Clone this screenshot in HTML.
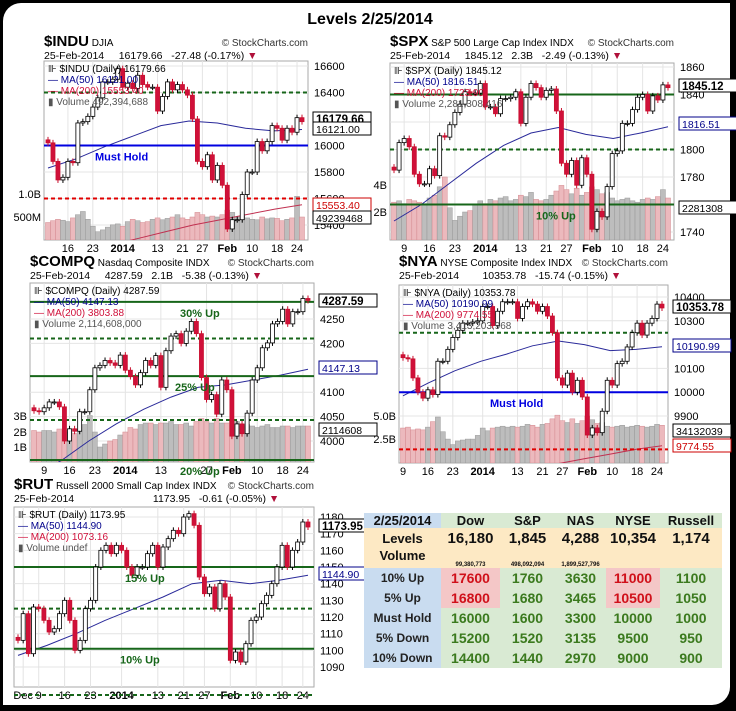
<!DOCTYPE html>
<html><head><meta charset="utf-8"><style>
body{margin:0;width:736px;height:711px;background:#000;overflow:hidden;font-family:"Liberation Sans",sans-serif}
#frame{position:absolute;left:3px;top:3px;width:727px;height:702px;background:#fff;border-radius:18px 0 18px 0}
svg{position:absolute;left:0;top:0}
#tbl{position:absolute;left:364px;top:513px;border-collapse:collapse;font-family:"Liberation Sans",sans-serif;font-weight:bold}
#tbl td{padding:0;text-align:center;height:20px;font-size:14px;color:#3b7a1e}
#tbl .lab{background:#c9dcf0;color:#222;font-size:12px;width:77px}
#tbl .g{background:#d9ead3}
#tbl .r{background:#f4c7c7;color:#d0101a}
#tbl .hd td{height:14px;font-size:13px;color:#111;background:#d9ead3}
#tbl .lv td{background:#fde9c4;color:#111}
</style></head><body>
<div id="frame"></div>
<svg id="s" width="736" height="711">
<text x="370" y="24" text-anchor="middle" font-size="16" font-weight="bold">Levels 2/25/2014</text>
</svg>
<table id="tbl">
<tr class="hd"><td class="lab" style="background:#c9dcf0;width:77px">2/25/2014</td><td style="width:59px">Dow</td><td style="width:55px">S&amp;P</td><td style="width:51px">NAS</td><td style="width:54px">NYSE</td><td style="width:62px">Russell</td></tr>
<tr class="lv"><td class="lab" style="background:#fde9c4;font-size:13px;height:19px">Levels</td><td style="font-size:15px">16,180</td><td style="font-size:15px">1,845</td><td style="font-size:15px">4,288</td><td style="font-size:15px">10,354</td><td style="font-size:15px">1,174</td></tr>
<tr class="lv"><td class="lab" style="background:#fde9c4;font-size:13px;height:18px;vertical-align:top">Volume</td><td style="font-size:6px;vertical-align:bottom">99,380,773</td><td style="font-size:6px;vertical-align:bottom">498,092,094</td><td style="font-size:6px;vertical-align:bottom">1,899,527,796</td><td></td><td></td></tr>
<tr><td class="lab">10% Up</td><td class="r">17600</td><td class="g">1760</td><td class="g">3630</td><td class="r">11000</td><td class="g">1100</td></tr>
<tr><td class="lab">5% Up</td><td class="r">16800</td><td class="g">1680</td><td class="g">3465</td><td class="r">10500</td><td class="g">1050</td></tr>
<tr><td class="lab">Must Hold</td><td class="g">16000</td><td class="g">1600</td><td class="g">3300</td><td class="g">10000</td><td class="g">1000</td></tr>
<tr><td class="lab">5% Down</td><td class="g">15200</td><td class="g">1520</td><td class="g">3135</td><td class="g">9500</td><td class="g">950</td></tr>
<tr><td class="lab">10% Down</td><td class="g">14400</td><td class="g">1440</td><td class="g">2970</td><td class="g">9000</td><td class="g">900</td></tr>
</table>
<script>
// ---- data ----
const induCloses=[16020,15880,15740,15760,15880,15870,16170,16180,16220,16290,16360,16480,16480,16500,16580,16440,16470,16430,16530,16460,16440,16440,16260,16370,16480,16420,16460,16420,16380,16200,15880,15840,15930,15740,15850,15700,15370,15440,15440,15630,15800,15800,16030,15960,16030,16150,16130,16040,16130,16100,16210,16180];
const induVol=[.38,.42,.45,.43,.4,.48,.55,.62,.45,.3,.18,.22,.28,.33,.35,.3,.4,.45,.42,.38,.4,.45,.48,.44,.47,.5,.55,.48,.45,.5,.6,.55,.5,.52,.5,.55,.65,.6,.5,.52,.48,.45,.44,.5,.46,.48,.47,.42,.45,.48,.95,.5];
const induMA50=[15830,15900,15990,16070,16150,16185,16170,16130,16110,16121];
const induMA200=[15250,15300,15350,15400,15440,15480,15520,15553];
const induTicks=[16600,16400,16000,15800,15600,15400];
const induDates=["16","23","2014","13","21","27","Feb","10","18","24"];
const induDateIdx=[4,9,15,22,27,31,36,41,46,50];

const spxCloses=[1785,1805,1808,1802,1782,1775,1775,1786,1781,1810,1809,1818,1827,1833,1842,1841,1841,1848,1831,1831,1826,1837,1837,1838,1842,1819,1838,1848,1845,1838,1843,1844,1828,1790,1782,1792,1774,1794,1782,1742,1755,1751,1773,1797,1799,1819,1819,1829,1838,1840,1828,1839,1836,1847,1845];
const spxVol=[2.7,2.8,2.6,2.9,2.8,2.7,2.6,3.0,3.2,3.8,4.5,2.3,1.4,1.7,2.0,2.1,2.5,2.8,2.6,2.9,2.8,3.0,3.1,2.8,2.9,3.2,3.1,3.4,2.9,2.8,2.9,3.2,3.5,3.9,3.6,3.3,3.7,3.2,3.4,3.8,3.6,3.3,3.4,3.0,2.8,2.9,3.0,2.8,2.7,2.9,3.0,2.9,3.1,3.6,3.0];
const spxMA50=[1748,1760,1775,1790,1803,1812,1816,1811,1808,1812,1816.5];
const spxTicks=[1860,1840,1820,1800,1780,1760,1740];
const spxDates=["9","16","23","2014","13","21","27","Feb","10","18","24"];
const spxDateIdx=[2,7,12,18,25,30,34,39,44,49,53];

const nyaCloses=[10145,10140,10060,10000,9975,10010,9990,10130,10130,10180,10230,10260,10290,10290,10295,10300,10360,10360,10280,10340,10380,10380,10380,10310,10360,10380,10370,10340,10360,10320,10250,10060,10030,10080,10000,10050,9980,9820,9850,9830,9920,10050,10030,10120,10130,10190,10250,10290,10240,10290,10310,10370,10354];
const nyaVol=[3.8,3.9,3.6,3.7,3.6,3.9,4.5,5.0,3.4,2.6,2.0,2.4,2.5,2.6,2.6,3.0,3.8,3.5,3.8,3.9,4.0,3.9,4.0,3.9,4.0,4.2,4.1,3.9,4.2,4.3,4.8,5.2,4.6,4.4,4.8,4.3,4.6,5.1,4.7,4.3,4.4,4.0,3.9,4.0,4.1,3.9,4.0,4.1,4.0,3.9,4.0,4.2,4.1];
const nyaMA50=[9985,10040,10090,10130,10160,10195,10215,10200,10175,10180,10191];
const nyaMA200=[9700,9720,9740,9760,9775];
const nyaTicks=[10400,10300,10100,10000,9900];
const nyaDates=["9","16","23","2014","13","21","27","Feb","10","18","24"];
const nyaDateIdx=[0,5,10,16,23,28,32,37,42,47,51];

const compCloses=[4062,4060,4068,4080,4080,4070,4000,4025,4020,4060,4060,4105,4150,4155,4165,4160,4155,4176,4145,4132,4115,4140,4165,4155,4175,4110,4185,4215,4220,4200,4225,4245,4220,4130,4085,4095,4055,4125,4105,4010,4035,4015,4057,4125,4150,4191,4201,4240,4245,4270,4240,4265,4265,4292,4288];
const compVol=[2.1,2.0,2.1,2.1,2.0,2.2,2.1,2.0,1.9,2.2,2.5,3.1,2.0,1.0,1.2,1.4,1.5,1.8,2.0,2.3,2.2,2.5,2.6,2.6,2.5,2.6,2.6,2.7,2.5,2.5,2.6,2.4,2.7,2.9,2.7,2.6,2.9,2.6,2.6,2.8,2.7,2.4,2.5,2.4,2.3,2.4,2.5,2.3,2.3,2.4,2.4,2.3,2.4,2.4,2.4];
const compMA50=[3930,3960,4000,4035,4065,4090,4110,4115,4125,4135,4147];
const compTicks=[4250,4200,4100,4050,4000];
const compDates=["9","16","23","2014","13","27","Feb","10","18","24"];
const compDateIdx=[2,7,12,18,25,34,39,44,49,53];

const rutCloses=[1106,1122,1098,1126,1125,1118,1111,1113,1122,1130,1118,1100,1106,1125,1130,1150,1160,1163,1158,1163,1160,1150,1145,1150,1150,1158,1163,1150,1162,1167,1172,1170,1180,1182,1175,1144,1134,1138,1125,1140,1132,1094,1099,1093,1104,1118,1120,1128,1133,1140,1150,1163,1150,1160,1165,1177,1174];
const rutMA50=[1097,1103,1110,1118,1125,1132,1140,1142,1140,1142,1145];
const rutTicks=[1180,1170,1160,1150,1140,1130,1120,1110,1100,1090];
const rutDates=["Dec","9","16","23","2014","13","21","27","Feb","10","18","24"];
const rutDateIdx=[1,4,9,14,20,27,32,36,41,46,51,55];

// ---- config (layout only) ----
const charts=[
 {id:"indu",sym:"$INDU",name:"DJIA",tx:44,ty:46,x0:44,x1:308,y0:61,y1:240,refV:16600,refY:66,ppu:0.1325,
  closes:induCloses,vol:induVol,volK:46,ma50:induMA50,ma200:induMA200,ma200From:0.25,ticks:induTicks,dates:induDates,dateIdx:induDateIdx,
  line2:"25-Feb-2014    <b>Close</b> 16179.66  <b>Chg</b> -27.48 (-0.17%)",
  leg:["$INDU (Daily) 16179.66","MA(50) 16121.00","MA(200) 15553.40","Volume 492,394,688"],
  volTicks:[["1.0B",194],["500M",217]],
  levels:[{v:16400,c:"#17661a",d:"4,3"},{v:16000,c:"#0000e0",d:"",label:"Must Hold",lx:95,lc:"#0000e0",below:1},{v:15600,c:"#e00000",d:"4,3"}],
  tags:[["16179.66",1],["16121.00",0],["15553.40",0,"#c00"],["49239468",0]],tagY:[119,129,205,218]},
 {id:"spx",sym:"$SPX",name:"S&P 500 Large Cap Index INDX",tx:390,ty:46,x0:390,x1:674,y0:63,y1:240,refV:1860,refY:67,ppu:1.375,
  closes:spxCloses,vol:spxVol,volK:14,ma50:spxMA50,ma200:null,ticks:spxTicks,dates:spxDates,dateIdx:spxDateIdx,
  line2:"25-Feb-2014    <b>Cl</b> 1845.12  <b>Vol</b> 2.3B  <b>Chg</b> -2.49 (-0.13%)",
  leg:["$SPX (Daily) 1845.12","MA(50) 1816.51","MA(200) 1723.90","Volume 2,281,308,416"],
  volTicks:[["4B",185],["2B",212]],
  levels:[{v:1840,c:"#17661a",d:""},{v:1800,c:"#17661a",d:"4,3"},{v:1760,c:"#17661a",d:"",label:"10% Up",lx:536,lc:"#17661a",below:1}],
  tags:[["1845.12",1],["1816.51",0,"#008"],["2281308",0]],tagY:[86,124,208]},
 {id:"comp",sym:"$COMPQ",name:"Nasdaq Composite INDX",tx:30,ty:266,x0:30,x1:314,y0:283,y1:462,refV:4250,refY:319,ppu:0.488,
  closes:compCloses,vol:compVol,volK:15,ma50:compMA50,ma200:null,ticks:compTicks,dates:compDates,dateIdx:compDateIdx,
  line2:"25-Feb-2014    <b>Cl</b> 4287.59  <b>Vol</b> 2.1B  <b>Chg</b> -5.38 (-0.13%)",
  leg:["$COMPQ (Daily) 4287.59","MA(50) 4147.13","MA(200) 3803.88","Volume 2,114,608,000"],
  volTicks:[["3B",416],["2B",432],["1B",447]],
  levels:[{v:4285,c:"#17661a",d:"",label:"30% Up",lx:180,lc:"#17661a",below:1},{v:4210,c:"#17661a",d:"4,3"},{v:4133,c:"#17661a",d:"",label:"25% Up",lx:175,lc:"#17661a",below:1},{v:4043,c:"#17661a",d:"4,3"},{v:3961,c:"#17661a",d:"",label:"20% Up",lx:180,lc:"#17661a",below:1}],
  tags:[["4287.59",1],["4147.13",0,"#008"],["2114608",0]],tagY:[301,368,430]},
 {id:"nya",sym:"$NYA",name:"NYSE Composite Index INDX",tx:399,ty:266,x0:399,x1:668,y0:285,y1:463,refV:10400,refY:297,ppu:0.238,
  closes:nyaCloses,vol:nyaVol,volK:9.2,ma50:nyaMA50,ma200:nyaMA200,ma200From:0.6,ticks:nyaTicks,dates:nyaDates,dateIdx:nyaDateIdx,
  line2:"25-Feb-2014       <b>Close</b> 10353.78  <b>Chg</b> -15.74 (-0.15%)",
  leg:["$NYA (Daily) 10353.78","MA(50) 10190.99","MA(200) 9774.55","Volume 3,413,203,968"],
  volTicks:[["5.0B",416],["2.5B",439]],
  levels:[{v:10250,c:"#17661a",d:"4,3"},{v:10000,c:"#0000e0",d:"",label:"Must Hold",lx:490,lc:"#0000e0",below:1},{v:9760,c:"#e00000",d:"4,3"}],
  tags:[["10353.78",1],["10190.99",0,"#008"],["34132039",0],["9774.55",0,"#c00"]],tagY:[307,346,431,446]},
 {id:"rut",sym:"$RUT",name:"Russell 2000 Small Cap Index INDX",tx:14,ty:489,x0:14,x1:314,y0:507,y1:687,refV:1180,refY:517,ppu:1.667,
  closes:rutCloses,vol:null,ma50:rutMA50,ma200:null,ticks:rutTicks,dates:rutDates,dateIdx:rutDateIdx,
  line2:"25-Feb-2014                          <b>Close</b> 1173.95  <b>Chg</b> -0.61 (-0.05%)",
  leg:["$RUT (Daily) 1173.95","MA(50) 1144.90","MA(200) 1073.16","Volume undef"],volTicks:[],
  levels:[{v:1150,c:"#17661a",d:"",label:"15% Up",lx:125,lc:"#17661a",below:1},{v:1125,c:"#17661a",d:"4,3"},{v:1101,c:"#17661a",d:"",label:"10% Up",lx:120,lc:"#17661a",below:1}],
  tags:[["1173.95",1],["1144.90",0,"#008"]],tagY:[526,574]}
];

const NS="http://www.w3.org/2000/svg";
const svg=document.getElementById('s');
function mk(tag,attrs,parent){const e=document.createElementNS(NS,tag);for(const k in attrs)e.setAttribute(k,attrs[k]);(parent||svg).appendChild(e);return e;}

charts.forEach(c=>{
  const g=mk('g',{});
  
  
  const N=c.closes.length;
  const X=i=>c.x0+4+i*(c.x1-c.x0-10)/(N-1);
  const Y=v=>c.refY+(c.refV-v)*c.ppu;
  // header
  const t=mk('text',{x:c.tx,y:c.ty,'font-size':10},g);
  t.innerHTML='<tspan font-size="15" font-weight="bold">'+c.sym+'</tspan> '+c.name.replace(/&/g,'&amp;');
  
  
  const sc=mk('text',{x:c.x1,y:c.ty,'font-size':10,'text-anchor':'end',fill:'#333'},g);sc.textContent='© StockCharts.com';
  const l2=mk('text',{x:c.tx,y:c.ty+13,'font-size':10.5},g);
  l2.innerHTML=c.line2.replace(/ {2,}/g,m=>'\u00a0'.repeat(m.length))+' <tspan fill="#b0103a">▼</tspan>';
  // box
  mk('rect',{x:c.x0,y:c.y0,width:c.x1-c.x0,height:c.y1-c.y0,fill:'#fff',stroke:'#aaa'},g);
  const clipId='clip'+c.id;
  const cp=mk('clipPath',{id:clipId},g);mk('rect',{x:c.x0,y:c.y0,width:c.x1-c.x0,height:c.y1-c.y0},cp);
  const pg=mk('g',{'clip-path':'url(#'+clipId+')'},g);
  // grid
  c.ticks.forEach(v=>{mk('line',{x1:c.x0,x2:c.x1,y1:Y(v),y2:Y(v),stroke:'#e4e4e4'},pg);
    const tt=mk('text',{x:c.x1+6,y:Y(v)+4,'font-size':11},g);tt.textContent=v;});
  c.dateIdx.forEach((d,k)=>{mk('line',{x1:X(d),x2:X(d),y1:c.y0,y2:c.y1,stroke:'#e4e4e4'},pg);
    const lab=c.dates[k];const dt=mk('text',{x:X(d),y:c.y1+12,'font-size':11,'text-anchor':'middle','font-weight':(lab=='2014'||lab=='Feb')?'bold':'normal'},g);dt.textContent=lab;});
  // legend (behind marks)
  const lg=mk('g',{},g);
  
  
  // volume
  if(c.vol){c.vol.forEach((v,i)=>{const up=i>0&&c.closes[i]>=c.closes[i-1];
    const h=v*c.volK;const r=mk('rect',{x:X(i)-2.5,y:c.y1-h,width:5,height:h,fill:up?'#bdbdbd':'#ecb9bd',stroke:up?'#999':'#d48a90','stroke-width':0.5},pg);
    
    });
    c.volTicks.forEach(vt=>{const e=mk('text',{x:c.x0-3,y:vt[1]+4,'font-size':11,'text-anchor':'end'},g);e.textContent=vt[0];});}
  // MAs
  const maLine=(arr,from,col)=>{const k=arr.length;const start=from||0;
    const pts=arr.map((v,j)=>X((start+(1-start)*j/(k-1))*(N-1)).toFixed(1)+','+Y(v).toFixed(1)).join(' ');
    return mk('polyline',{points:pts,fill:'none',stroke:col,'stroke-width':1},pg);};
  const m5=maLine(c.ma50,0,'#2a2a9a');
  if(c.ma200){const m2=maLine(c.ma200,c.ma200From,'#c03050');}
  // levels
  c.levels.forEach(L=>{const ln=mk('line',{x1:c.x0,x2:c.x1,y1:Y(L.v),y2:Y(L.v),stroke:L.c,'stroke-width':2,'stroke-dasharray':L.d},pg);
    
    if(L.label){const e=mk('text',{x:L.lx,y:Y(L.v)+(L.below?15:-4),'font-size':11,'font-weight':'bold',fill:L.lc},g);e.textContent=L.label;}});
  // legend text
  const cols=['#000','#00008b','#d0103a','#555'];
  c.leg.forEach((s,k)=>{const e=mk('text',{x:c.x0+4,y:c.y0+11+k*11,'font-size':10,fill:cols[k]},lg);e.textContent=(k==0?'⊪ ':k==3?'▮ ':'— ')+s;});
  // candles
  const wick=3/c.ppu;
  c.closes.forEach((cl,i)=>{const o=i>0?c.closes[i-1]:cl+wick;const hi=Math.max(o,cl)+wick,lo=Math.min(o,cl)-wick;
    const down=cl<o;const x=X(i);
    mk('line',{x1:x,x2:x,y1:Y(hi),y2:Y(lo),stroke:down?'#c8102e':'#000'},pg);
    const top=Y(Math.max(o,cl)),h=Math.max(1,Math.abs(Y(o)-Y(cl)));
    const r=mk('rect',{x:x-2,y:top,width:4,height:h,fill:down?'#d0103a':'#fff',stroke:down?'#c8102e':'#000','stroke-width':0.8},pg);
    
    });
  // tags
  c.tags.forEach((tg,k)=>{const y=c.tagY[k];const w=58;
    mk('rect',{x:c.x1+5,y:y-7,width:w,height:13,fill:'#fff',stroke:tg[2]||'#000','stroke-width':1},g);
    const e=mk('text',{x:c.x1+8,y:y+4,'font-size':tg[1]?11.5:10.5,'font-weight':tg[1]?'bold':'normal',fill:tg[2]||'#000'},g);e.textContent=tg[0];});
});
// RUT bottom dashed line
const dl=mk('line',{x1:14,x2:314,y1:695,y2:695,stroke:'#17661a','stroke-width':2,'stroke-dasharray':'4,3'});


</script>
</body></html>
